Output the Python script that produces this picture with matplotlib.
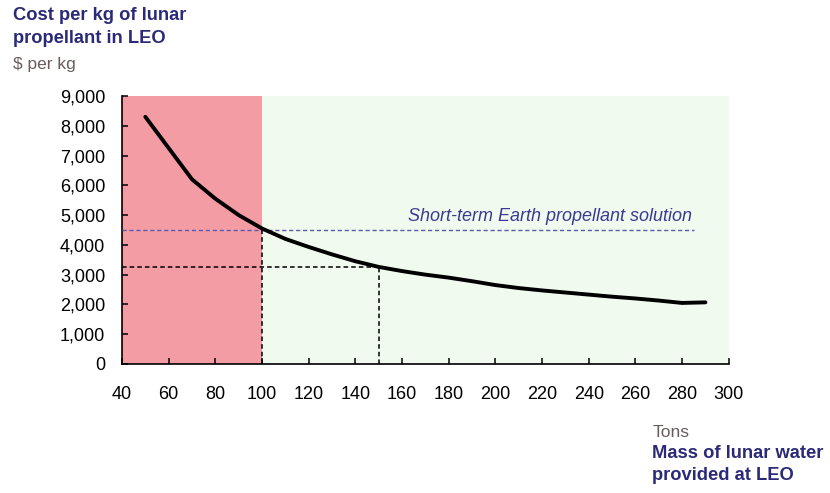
import numpy as np
import matplotlib.pyplot as plt

plt.rcParams['font.family'] = ['Liberation Sans', 'DejaVu Sans']

# data
mass_t = [50, 60, 70, 80, 90, 100, 110, 120, 130, 140, 150, 160, 170, 180,
          190, 200, 210, 220, 230, 240, 250, 260, 270, 280, 290]
cost_kg = [8300, 7250, 6200, 5550, 5000, 4550, 4200, 3930, 3680, 3450, 3260,
           3120, 3000, 2900, 2780, 2650, 2550, 2470, 2400, 2330, 2260, 2200,
           2130, 2050, 2070]
earth_cost = 4500
earth_end = 285
crossover = (100, 4500)
target = (150, 3250)

navy = '#2a2a78'

fig = plt.figure(figsize=(8.3, 4.93), dpi=100)
ax = fig.add_axes([0.147, 0.2617, 0.731, 0.5436])

ax.axvspan(40, 100, ymin=0, ymax=1, color='#f39ca4', zorder=0, lw=0)
ax.axvspan(100, 300, ymin=0, ymax=1, color='#f0faef', zorder=0, lw=0)

ax.plot(mass_t, cost_kg, color='black', lw=2.8, solid_capstyle='round', zorder=4)

# short-term Earth solution
ax.plot([40, earth_end], [earth_cost, earth_cost], color='#5a5ab0', lw=1.0,
        ls=(0, (3, 2)), zorder=3)
ax.text(162.5, 4800, 'Short-term Earth propellant solution', color='#3a3a92',
        fontsize=13, style='italic', ha='left', va='baseline')

# guide lines
ax.plot([crossover[0], crossover[0]], [0, crossover[1]], color='black', lw=1.1,
        ls=(0, (3, 2)), zorder=3)
ax.plot([40, target[0]], [target[1], target[1]], color='black', lw=1.1,
        ls=(0, (3, 2)), zorder=3)
ax.plot([target[0], target[0]], [0, target[1]], color='black', lw=1.1,
        ls=(0, (3, 2)), zorder=3)

ax.set_xlim(40, 300)
ax.set_ylim(0, 9000)
ax.set_xticks(np.arange(40, 301, 20))
ax.set_yticks(np.arange(0, 9001, 1000))
ax.set_yticklabels([f'{v:,}' for v in range(0, 9001, 1000)])
ax.tick_params(direction='in', length=4, width=1.1, labelsize=13,
               colors='black')
ax.tick_params(axis='x', pad=16)
ax.tick_params(axis='y', pad=12)
for s in ['top', 'right']:
    ax.spines[s].set_visible(False)
for s in ['left', 'bottom']:
    ax.spines[s].set_linewidth(1.2)

fig.text(0.016, 0.985, 'Cost per kg of lunar\npropellant in LEO', color=navy,
         fontsize=13.2, fontweight='bold', ha='left', va='top', linespacing=1.4)
fig.text(0.016, 0.885, '$ per kg', color='#6a5c5c', fontsize=12.5, ha='left',
         va='top')

fig.text(0.786, 0.138, 'Tons', color='#6a5c5c', fontsize=12.5, ha='left',
         va='top')
fig.text(0.786, 0.097, 'Mass of lunar water\nprovided at LEO', color=navy,
         fontsize=13.2, fontweight='bold', ha='left', va='top', linespacing=1.4)

fig.savefig('out.png', dpi=100)
